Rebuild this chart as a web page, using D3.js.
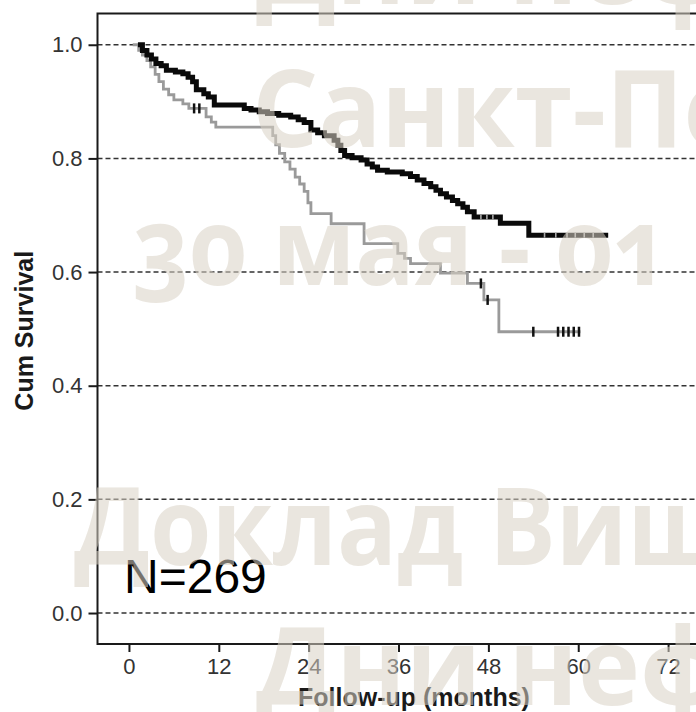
<!DOCTYPE html>
<html>
<head>
<meta charset="utf-8">
<script src="https://cdn.jsdelivr.net/npm/d3@7"></script>
<style>
  body { margin: 0; background: #fff; }
  svg { display: block; }
  .stamp text { white-space: pre; }
</style>
</head>
<body>
<svg id="chart" width="696" height="712"></svg>
<script>
// group 1 (black): drop times in months and survival after each drop
const blackStart = 1.2;
const blackTimes = [1.8, 2.4, 3.0, 3.6, 4.3, 5.0, 6.2, 7.2, 7.9, 8.5, 9.0, 10.0, 10.6, 11.4, 15.4,
  16.3, 17.4, 18.5, 20.0, 21.6, 22.6, 23.4, 24.3, 25.2, 26.1, 27.4, 27.9, 28.3, 28.8, 29.8,
  31.0, 31.8, 32.5, 33.2, 34.5, 36.5, 37.6, 38.5, 39.4, 40.3, 41.0, 41.6, 42.4, 43.2, 43.9,
  44.6, 45.2, 46.1, 49.6, 53.4];
const blackSurv = [0.99, 0.982, 0.975, 0.967, 0.963, 0.955, 0.952, 0.949, 0.943, 0.935, 0.921, 0.914, 0.908, 0.894, 0.888,
  0.885, 0.882, 0.879, 0.876, 0.873, 0.868, 0.863, 0.85, 0.845, 0.84, 0.832, 0.823, 0.814, 0.805, 0.801,
  0.797, 0.79, 0.785, 0.779, 0.776, 0.773, 0.768, 0.762, 0.756, 0.75, 0.744, 0.738, 0.732, 0.726, 0.72,
  0.714, 0.706, 0.697, 0.686, 0.665];
const blackEnd = 64.0;
const blackCensor = [47.0, 47.8, 48.6, 55.5, 57.0, 58.5, 59.6, 60.8, 62.0];

// group 2 (gray)
const grayStart = 0.5;
const grayTimes = [1.3, 1.8, 2.4, 2.9, 3.5, 4.0, 4.6, 5.3, 6.0, 7.2, 8.0, 10.3, 11.0, 11.6, 19.2,
  19.6, 20.1, 20.8, 21.5, 22.2, 22.8, 23.4, 23.9, 24.3, 27.0, 31.4, 35.9, 36.8, 37.6, 41.6,
  45.2, 47.4, 49.4];
const graySurv = [0.99, 0.982, 0.972, 0.961, 0.948, 0.935, 0.922, 0.912, 0.903, 0.896, 0.888, 0.873, 0.864, 0.855, 0.84,
  0.824, 0.809, 0.794, 0.781, 0.767, 0.755, 0.742, 0.722, 0.703, 0.685, 0.65, 0.633, 0.624, 0.615, 0.598,
  0.58, 0.551, 0.495];
const grayEnd = 60.3;
const grayCensor = [8.7, 9.4, 47.0, 47.9, 54.0, 57.3, 58.0, 58.7, 59.4, 60.1];

const xTicks = [0, 12, 24, 36, 48, 60, 72];
const yTicks = [0, 0.2, 0.4, 0.6, 0.8, 1.0];
const nLabel = 'N=269';
const xTitle = 'Follow-up (months)';
const yTitle = 'Cum Survival';

// background stamp of the source slide; the glyph at index `at` should land on `target`
const stampLines = [
  { text: 'Дни нефти', x: 256, y: 4, at: 6, target: 640 },
  { text: 'Санкт-Петербург', x: 252, y: 147, at: 6, target: 606 },
  { text: '30 мая - 01 июня', x: 133, y: 285, at: 9, target: 556 },
  { text: 'Доклад Вишневского', x: 74, y: 565, at: 7, target: 489 },
  { text: 'Дни нефти', x: 256, y: 705, at: 6, target: 640 },
];

const svg = d3.select('#chart');
const frame = { left: 97.5, top: 13.5, right: 731, bottom: 644 };

const x = d3.scaleLinear().domain([-4.2, 80.4]).range([frame.left, frame.right]);
const y = d3.scaleLinear().domain([-0.0545, 1.055]).range([frame.bottom, frame.top]);

/* GRID */
svg.append('g').attr('class', 'grid')
  .selectAll('line').data(yTicks).join('line')
  .attr('x1', frame.left).attr('x2', frame.right)
  .attr('y1', d => y(d)).attr('y2', d => y(d))
  .attr('stroke', '#333').attr('stroke-width', 1.5)
  .attr('stroke-dasharray', '5,3');

/* CURVES */
const steps = (start, times, surv, end) =>
  [[start, 1], ...times.map((t, i) => [t, surv[i]]), [end, surv[surv.length - 1]]];
const survAt = (times, surv) => t => {
  let s = 1;
  times.forEach((tt, i) => { if (tt <= t) s = surv[i]; });
  return s;
};
const line = d3.line().x(d => x(d[0])).y(d => y(d[1])).curve(d3.curveStepAfter);

svg.append('path')
  .datum(steps(grayStart, grayTimes, graySurv, grayEnd))
  .attr('fill', 'none').attr('stroke', '#9a9a9a').attr('stroke-width', 2.8)
  .attr('d', line);

svg.append('path')
  .datum(steps(blackStart, blackTimes, blackSurv, blackEnd))
  .attr('fill', 'none').attr('stroke', '#0a0a0a').attr('stroke-width', 5)
  .attr('d', line);

// censor marks
const grayS = survAt(grayTimes, graySurv);
svg.append('g').selectAll('line').data(grayCensor).join('line')
  .attr('x1', d => x(d)).attr('x2', d => x(d))
  .attr('y1', d => y(grayS(d)) - 5).attr('y2', d => y(grayS(d)) + 5)
  .attr('stroke', '#111').attr('stroke-width', 2.5);

const blackS = survAt(blackTimes, blackSurv);
svg.append('g').selectAll('line').data(blackCensor).join('line')
  .attr('x1', d => x(d)).attr('x2', d => x(d))
  .attr('y1', d => y(blackS(d)) - 2.5).attr('y2', d => y(blackS(d)) + 2.5)
  .attr('stroke', '#aaa').attr('stroke-width', 1.6);

/* FRAME + AXES */
svg.append('path')
  .attr('d', `M${frame.right},${frame.top}H${frame.left}V${frame.bottom}H${frame.right}`)
  .attr('fill', 'none').attr('stroke', '#1a1a1a').attr('stroke-width', 2);

const yAxis = svg.append('g').attr('transform', `translate(${frame.left},0)`)
  .call(d3.axisLeft(y).tickValues(yTicks).tickFormat(d3.format('.1f')).tickSize(9).tickPadding(6));
const xAxis = svg.append('g').attr('transform', `translate(0,${frame.bottom})`)
  .call(d3.axisBottom(x).tickValues(xTicks).tickSize(8).tickPadding(6));
[yAxis, xAxis].forEach(a => {
  a.select('.domain').remove();
  a.selectAll('line').attr('stroke', '#1a1a1a').attr('stroke-width', 2);
  a.selectAll('text').attr('fill', '#333')
    .style('font-family', '"Liberation Sans", Arial, Helvetica, sans-serif')
    .style('font-size', '22px');
});

svg.append('text')
  .attr('x', 414).attr('y', 706)
  .attr('text-anchor', 'middle').attr('fill', '#1a1a1a')
  .style('font-family', '"Liberation Sans", Arial, sans-serif')
  .style('font-weight', 'bold').style('font-size', '25px')
  .text(xTitle);

svg.append('text')
  .attr('transform', `translate(33,${(frame.top + frame.bottom) / 2 + 2}) rotate(-90)`)
  .attr('text-anchor', 'middle').attr('fill', '#1a1a1a')
  .style('font-family', '"Liberation Sans", Arial, sans-serif')
  .style('font-weight', 'bold').style('font-size', '25px')
  .text(yTitle);

svg.append('text')
  .attr('x', 124).attr('y', 593)
  .attr('fill', '#000')
  .style('font-family', '"Liberation Sans", Arial, sans-serif')
  .style('font-size', '48px')
  .text(nLabel);

/* STAMP */
const stamp = svg.append('g').attr('class', 'stamp');
stampLines.forEach(d => {
  const t = stamp.append('text')
    .attr('fill', 'rgb(217,210,197)').attr('fill-opacity', 0.55)
    .style('font-family', '"Open Sans", sans-serif')
    .style('font-weight', 700).style('font-size', '108px')
    .style('font-variant-numeric', 'oldstyle-nums')
    .text(d.text);
  const pos = t.node().getStartPositionOfChar(d.at).x;
  const sx = (d.target - d.x) / pos;
  t.attr('transform', `translate(${d.x},${d.y}) scale(${sx},1)`);
});
</script>
</body>
</html>
